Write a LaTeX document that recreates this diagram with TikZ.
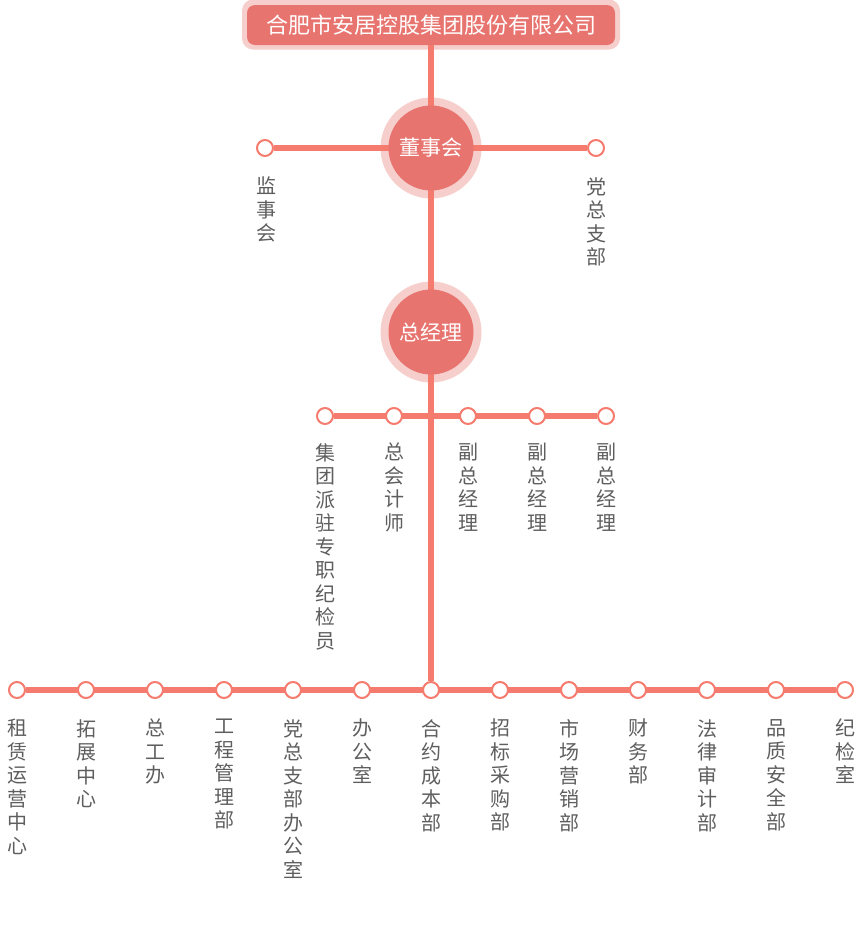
\documentclass[tikz,border=0pt]{standalone}
\usepackage{fontspec}
\newfontfamily\cjk{Noto Sans CJK SC}
\definecolor{wirecol}{HTML}{F47B6E}
\definecolor{hubcol}{HTML}{E8746F}
\definecolor{halocol}{HTML}{F6CFCC}
\definecolor{txtcol}{HTML}{5E5E5E}
\pgfdeclarelayer{halo}
\pgfdeclarelayer{wire}
\pgfsetlayers{halo,wire,main}
\tikzset{
  wire/.style={wirecol, line width=6pt},
  dot/.style={circle, draw=wirecol, line width=2pt, fill=white, minimum size=16pt, inner sep=0pt},
  hub/.style={circle, fill=hubcol, minimum size=85pt, inner sep=0pt, text=white, font=\cjk\fontsize{21}{24}\selectfont},
  hubhalo/.style={circle, fill=halocol, minimum size=101pt, inner sep=0pt},
  vlabel/.style={anchor=north, align=center, inner sep=0pt, text=txtcol, font=\cjk\fontsize{20}{23.5}\selectfont},
}
\begin{document}
\begin{tikzpicture}[x=1pt,y=-1pt]
\useasboundingbox (0,0) rectangle (859,930);
% top of the tree
\node[fill=hubcol, rounded corners=8pt, minimum width=368pt, minimum height=40pt, inner sep=0pt, text=white, font=\cjk\fontsize{22}{24}\selectfont] (corp) at (431,25) {合肥市安居控股集团股份有限公司};
\node[hub] (board) at (431,148) {董事会};
\node[hub] (gm) at (431,332) {总经理};
\begin{pgfonlayer}{halo}
  \node[fill=halocol, rounded corners=11pt, minimum width=378pt, minimum height=50pt] (corphalo) at (431,24.5) {};
  \node[hubhalo] (boardhalo) at (431,148) {};
  \node[hubhalo] (gmhalo) at (431,332) {};
\end{pgfonlayer}
% board level
\node[dot] (s1) at (265,148) {};
\node[dot] (s2) at (596,148) {};
\node[vlabel] (ls1) at (266,177) {监\\事\\会};
\node[vlabel] (ls2) at (596,177) {党\\总\\支\\部};
% manager level
\node[dot] (v1) at (325,416) {};
\node[dot] (v2) at (394,416) {};
\node[dot] (v3) at (468,416) {};
\node[dot] (v4) at (537,416) {};
\node[dot] (v5) at (606,416) {};
\node[vlabel] (lv1) at (325,443) {集\\团\\派\\驻\\专\\职\\纪\\检\\员};
\node[vlabel] (lv2) at (394,443) {总\\会\\计\\师};
\node[vlabel] (lv3) at (468,443) {副\\总\\经\\理};
\node[vlabel] (lv4) at (537,443) {副\\总\\经\\理};
\node[vlabel] (lv5) at (606,443) {副\\总\\经\\理};
% departments
\node[dot] (d1) at (17,690) {};
\node[dot] (d2) at (86,690) {};
\node[dot] (d3) at (155,690) {};
\node[dot] (d4) at (224,690) {};
\node[dot] (d5) at (293,690) {};
\node[dot] (d6) at (362,690) {};
\node[dot] (d7) at (431,690) {};
\node[dot] (d8) at (500,690) {};
\node[dot] (d9) at (569,690) {};
\node[dot] (d10) at (638,690) {};
\node[dot] (d11) at (707,690) {};
\node[dot] (d12) at (776,690) {};
\node[dot] (d13) at (845,690) {};
\node[vlabel] (l1) at (17,719) {租\\赁\\运\\营\\中\\心};
\node[vlabel] (l2) at (86,719) {拓\\展\\中\\心};
\node[vlabel] (l3) at (155,719) {总\\工\\办};
\node[vlabel] (l4) at (224,719) {工\\程\\管\\理\\部};
\node[vlabel] (l5) at (293,719) {党\\总\\支\\部\\办\\公\\室};
\node[vlabel] (l6) at (362,719) {办\\公\\室};
\node[vlabel] (l7) at (431,719) {合\\约\\成\\本\\部};
\node[vlabel] (l8) at (500,719) {招\\标\\采\\购\\部};
\node[vlabel] (l9) at (569,719) {市\\场\\营\\销\\部};
\node[vlabel] (l10) at (638,719) {财\\务\\部};
\node[vlabel] (l11) at (707,719) {法\\律\\审\\计\\部};
\node[vlabel] (l12) at (776,719) {品\\质\\安\\全\\部};
\node[vlabel] (l13) at (845,719) {纪\\检\\室};
% connectors
\begin{pgfonlayer}{wire}
  \draw[wire] (corp) -- (d7);
  \draw[wire] (s1) -- (s2);
  \draw[wire] (v1) -- (v5);
  \draw[wire] (d1) -- (d13);
\end{pgfonlayer}
\end{tikzpicture}
\end{document}
